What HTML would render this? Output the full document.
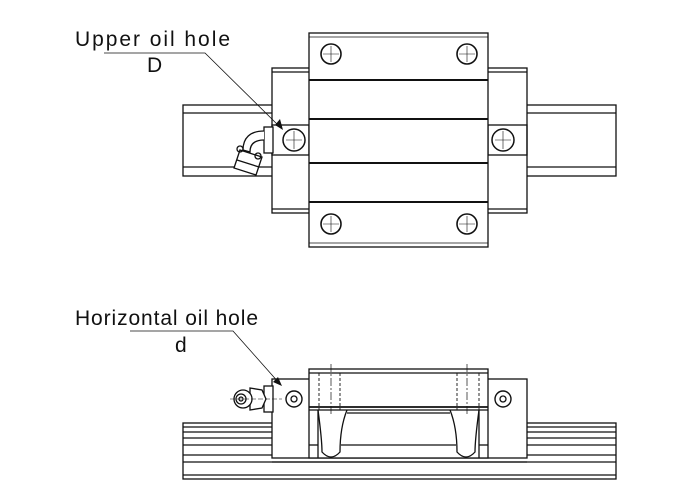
<!DOCTYPE html><html><head><style>body{margin:0;background:#fff}svg{display:block}</style></head><body>
<svg width="700" height="500" viewBox="0 0 700 500" xmlns="http://www.w3.org/2000/svg" font-family="Liberation Sans, sans-serif">
<rect width="700" height="500" fill="#fff"/>
<g fill="none" stroke="#111" stroke-width="1.3">
<!-- TOP VIEW -->
<rect x="183" y="105" width="433" height="71" fill="#fff"/>
<line x1="183" y1="113" x2="616" y2="113"/><line x1="183" y1="167" x2="616" y2="167"/>
<rect x="272" y="68" width="255" height="145" fill="#fff"/>
<line x1="272" y1="72" x2="527" y2="72"/><line x1="272" y1="209" x2="527" y2="209"/>
<rect x="272" y="125" width="37" height="30"/><rect x="488" y="125" width="39" height="30"/>
<rect x="309" y="33" width="179" height="214" fill="#fff"/>
<line x1="309" y1="37" x2="488" y2="37" stroke-width="0.8"/><line x1="309" y1="243" x2="488" y2="243" stroke-width="0.8"/>
<line x1="309" y1="80" x2="488" y2="80" stroke-width="2"/><line x1="309" y1="119" x2="488" y2="119" stroke-width="2"/>
<line x1="309" y1="163" x2="488" y2="163" stroke-width="2"/><line x1="309" y1="202" x2="488" y2="202" stroke-width="2"/>
<g stroke-width="1.6"><circle cx="331" cy="54" r="10"/><circle cx="467" cy="54" r="10"/><circle cx="331" cy="224" r="10"/><circle cx="467" cy="224" r="10"/></g>
<g stroke-width="0.6"><path d="M331 46v16M323 54h16M467 46v16M459 54h16M331 216v16M323 224h16M467 216v16M459 224h16"/></g>
<circle cx="294" cy="140" r="11" stroke-width="1.5"/><circle cx="503" cy="140" r="11" stroke-width="1.5"/>
<path d="M294 131v18M286 140h16M503 131v18M495 140h16" stroke-width="0.6"/>
<!-- fitting top -->
<rect x="264" y="127" width="9" height="26" fill="#fff"/>
<path d="M264 131 C250 131 243 138 243 150 L250 152 C250 143 256 140 264 140" fill="#fff"/>
<path d="M240 150 L262 157 L256 175 L234 168 Z" fill="#fff"/>
<circle cx="240" cy="149" r="3"/><circle cx="258" cy="156" r="3"/>
<line x1="237" y1="160" x2="259" y2="167"/>
<!-- BOTTOM VIEW -->
<rect x="183" y="423" width="433" height="56" fill="#fff"/>
<line x1="183" y1="427" x2="616" y2="427"/><line x1="183" y1="432" x2="616" y2="432"/><line x1="183" y1="438" x2="616" y2="438"/><line x1="183" y1="445" x2="616" y2="445"/><line x1="183" y1="455" x2="616" y2="455"/><line x1="183" y1="462" x2="616" y2="462"/><line x1="183" y1="475" x2="616" y2="475"/>
<rect x="272" y="379" width="255" height="79" fill="#fff"/>
<line x1="272" y1="462" x2="527" y2="462"/>
<rect x="309" y="369" width="179" height="89" fill="#fff"/>
<line x1="309" y1="373" x2="488" y2="373"/><line x1="309" y1="407" x2="488" y2="407" stroke-width="1.8"/><line x1="309" y1="410" x2="488" y2="410"/>
<line x1="318" y1="410" x2="318" y2="458"/><line x1="479" y1="410" x2="479" y2="458"/>
<line x1="309" y1="445" x2="318" y2="445"/><line x1="479" y1="445" x2="488" y2="445"/>
<path d="M318 410 C320 425 322 440 322 452 Q331 462 340 452 C340 435 343 420 347 410"/>
<path d="M450 410 C454 420 457 435 457 452 Q466 462 475 452 C475 440 477 425 479 410"/>
<line x1="347" y1="413" x2="450" y2="413"/><line x1="341" y1="445" x2="456" y2="445"/>
<g stroke-dasharray="3 2" stroke-width="0.9"><path d="M319 373v37M340 373v37M457 373v37M479 373v37"/></g>
<g stroke-dasharray="8 2 2 2" stroke-width="0.7"><path d="M331 364v50M467 364v50"/></g>
<circle cx="294" cy="399" r="8" stroke-width="1.4"/><circle cx="294" cy="399" r="3"/>
<circle cx="503" cy="399" r="8" stroke-width="1.4"/><circle cx="503" cy="399" r="3"/>
<!-- fitting bottom -->
<rect x="264" y="386" width="9" height="26" fill="#fff"/>
<path d="M250 388 L262 390 L266 399 L262 408 L250 410 Z" fill="#fff"/>
<circle cx="243" cy="399" r="9" fill="#fff"/><circle cx="241" cy="399" r="5"/><circle cx="241" cy="399" r="2"/>
<line x1="230" y1="399" x2="282" y2="399" stroke-width="0.6" stroke-dasharray="5 2"/>
<!-- leaders -->
<g stroke-width="0.8"><polyline points="104,53 205,53 281,128"/><polyline points="130,331 233,331 280,384"/></g>
</g>
<path d="M283 130 L275 125 L280 119 Z" fill="#111"/>
<path d="M282 386 L273 382 L278 377 Z" fill="#111"/>
<g fill="#111" font-size="21">
<text x="75" y="46" textLength="155" lengthAdjust="spacing">Upper oil hole</text><text x="147" y="72">D</text>
<text x="75" y="325" textLength="183" lengthAdjust="spacing">Horizontal oil hole</text><text x="175" y="352">d</text>
</g>
</svg></body></html>
